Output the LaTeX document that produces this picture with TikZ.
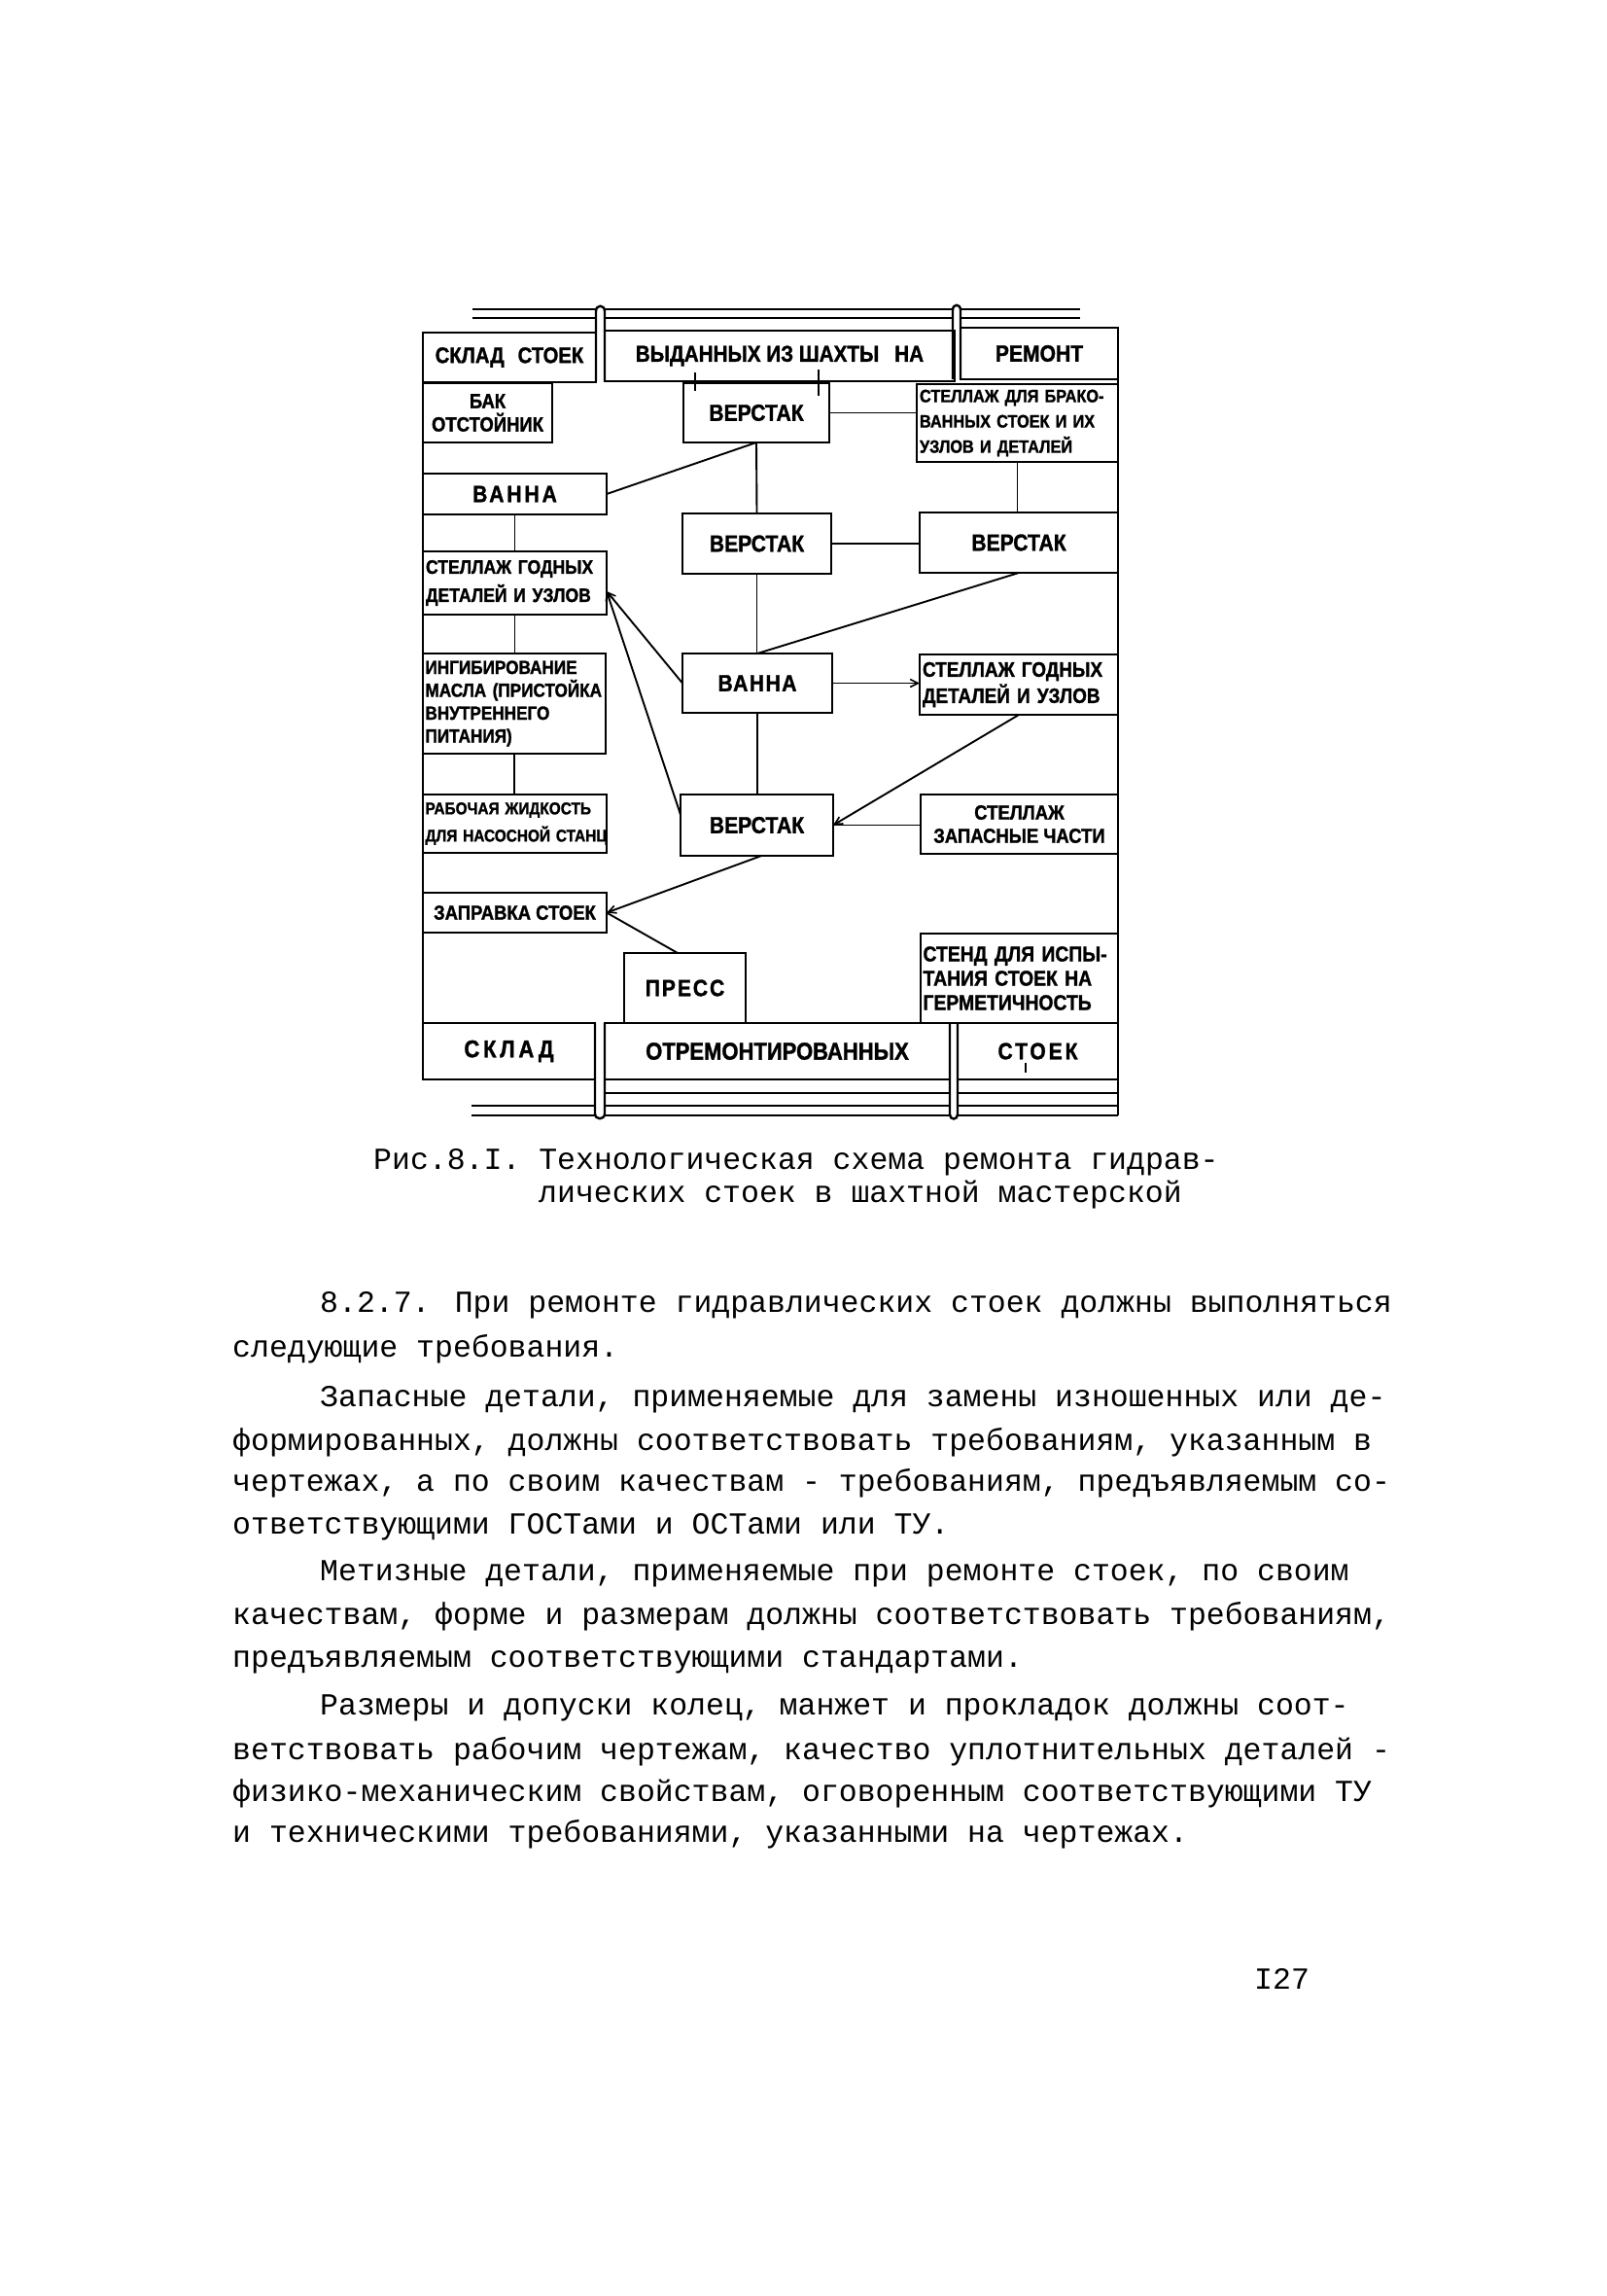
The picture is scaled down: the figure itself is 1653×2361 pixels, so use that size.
\documentclass[tikz,border=0pt]{standalone}
\usepackage{fontspec}
\usetikzlibrary{arrows.meta,calc}
\newfontfamily\dfont[FakeStretch=0.88, BoldFeatures={FakeBold=1.3}]{Liberation Sans}
\newfontfamily\tfont{Liberation Mono}
\begin{document}
\begin{tikzpicture}[x=1pt,y=-1pt,
  bx/.style={draw, line width=2.2pt, inner sep=2pt, outer sep=0pt},
  df/.style 2 args={font=\dfont\bfseries\fontsize{#1}{#2}\selectfont},
  con/.style={line width=1.9pt},
  arr/.style={-{Straight Barb[length=8pt,width=8pt,line width=1.6pt]}},
  wall/.style={line width=2.4pt},
  rail/.style={line width=2.6pt},
  bodyt/.style={anchor=base west, inner sep=0pt, font=\tfont\fontsize{31.5}{36}\selectfont}]
\fill[white] (0,0) rectangle (1653,2361);
\useasboundingbox (0,0) rectangle (1653,2361);

% rails
\draw[rail] (486,318) -- (613,318) (622,318) -- (980,318) (988,318) -- (1111,318);
\draw[rail] (486,327) -- (613,327) (622,327) -- (980,327) (988,327) -- (1111,327);
\draw[rail] (485,1137) -- (612,1137) (622,1137) -- (977,1137) (985,1137) -- (1150,1137);
\draw[rail] (485,1147) -- (612,1147) (622,1147) -- (977,1147) (985,1147) -- (1150,1147);
\draw[wall] (622,1124) -- (977,1124) (985,1124) -- (1150,1124);
% walls
\draw[wall] (435,342) -- (435,1110);
\draw[wall] (1150,337) -- (1150,1147);
% posts
\draw[wall] (613,392) -- (613,320) .. controls (613,313) and (622,313) .. (622,320) -- (622,392);
\draw[wall] (980,390) -- (980,319) .. controls (980,312) and (988,312) .. (988,319) -- (988,390);
\draw[wall] (612,1052) -- (612,1145) .. controls (612,1152) and (622,1152) .. (622,1145) -- (622,1052);
\draw[wall] (977,1052) -- (977,1146) .. controls (977,1152) and (985,1152) .. (985,1146) -- (985,1052);

% boxes
\node[bx, df={23}{25}, minimum width=178, minimum height=51] (skladTop) at (524,367.5) {СКЛАД\hspace{14pt}СТОЕК};
\node[bx, df={23.5}{25}, minimum width=360, minimum height=52] (vydan) at (802,366) {ВЫДАННЫХ ИЗ ШАХТЫ\hspace{16pt}НА};
\node[bx, df={24}{26}, minimum width=162, minimum height=53] (remont) at (1069,363.5) {РЕМОНТ};
\node[bx, df={21}{24}, minimum width=133, minimum height=61, align=center] (bak) at (501.5,424.5) {БАК\\ОТСТОЙНИК};
\node[bx, df={24}{26}, minimum width=150, minimum height=61] (verst1) at (778,424.5) {ВЕРСТАК};
\node[bx, df={18.5}{26}, minimum width=207, minimum height=80, text width=201, align=left] (brak) at (1046.5,435) {\mbox{СТЕЛЛАЖ ДЛЯ БРАКО-}\\\mbox{ВАННЫХ СТОЕК И ИХ}\\\mbox{УЗЛОВ И ДЕТАЛЕЙ}};
\node[bx, df={24}{26}, minimum width=189, minimum height=42] (vanna1) at (529.5,508) {\addfontfeatures{LetterSpace=12}ВАННА};
\node[bx, df={24}{26}, minimum width=153, minimum height=62] (verst2) at (778.5,559) {ВЕРСТАК};
\node[bx, df={24}{26}, minimum width=204, minimum height=62] (verst3) at (1048,558) {ВЕРСТАК};
\node[bx, df={20}{29}, minimum width=189, minimum height=65, text width=183, align=left] (stGodL) at (529.5,599.5) {\mbox{СТЕЛЛАЖ ГОДНЫХ}\\\mbox{ДЕТАЛЕЙ И УЗЛОВ}};
\node[bx, df={19.5}{23.5}, minimum width=188, minimum height=103, text width=183, align=left] (ingib) at (529,723.5) {\mbox{ИНГИБИРОВАНИЕ}\\\mbox{МАСЛА (ПРИСТОЙКА}\\\mbox{ВНУТРЕННЕГО}\\\mbox{ПИТАНИЯ)}};
\node[bx, df={17.5}{28}, minimum width=189, minimum height=60, text width=184, align=left] (rabzh) at (529.5,847) {\mbox{РАБОЧАЯ ЖИДКОСТЬ}\\\mbox{ДЛЯ НАСОСНОЙ СТАНЦ}};
\node[bx, df={24}{26}, minimum width=154, minimum height=61] (vanna2) at (779,702.5) {\addfontfeatures{LetterSpace=6}ВАННА};
\node[bx, df={21.5}{27}, minimum width=204, minimum height=62, text width=198, align=left] (stGodR) at (1048,704) {\mbox{СТЕЛЛАЖ ГОДНЫХ}\\\mbox{ДЕТАЛЕЙ И УЗЛОВ}};
\node[bx, df={24}{26}, minimum width=157, minimum height=63] (verst4) at (778.5,848.5) {ВЕРСТАК};
\node[bx, df={21}{24}, minimum width=203, minimum height=61, align=center] (zapch) at (1048.5,847.5) {СТЕЛЛАЖ\\ЗАПАСНЫЕ ЧАСТИ};
\node[bx, df={21}{24}, minimum width=189, minimum height=41] (zapr) at (529.5,938.5) {ЗАПРАВКА СТОЕК};
\node[bx, df={24}{26}, minimum width=125, minimum height=72] (press) at (704.5,1016) {\addfontfeatures{LetterSpace=8}ПРЕСС};
\node[bx, df={22}{25}, minimum width=203, minimum height=92, text width=198, align=left] (stend) at (1048.5,1006) {\mbox{СТЕНД ДЛЯ ИСПЫ-}\\\mbox{ТАНИЯ СТОЕК НА}\\\mbox{ГЕРМЕТИЧНОСТЬ}};
\node[bx, df={25}{27}, minimum width=177, minimum height=58] (skladB) at (523.5,1081) {\addfontfeatures{LetterSpace=15}СКЛАД};
\node[bx, df={25}{27}, minimum width=355, minimum height=58] (otrem) at (799.5,1081) {ОТРЕМОНТИРОВАННЫХ};
\node[bx, df={24}{26}, minimum width=165, minimum height=58] (stoekB) at (1067.5,1081) {\addfontfeatures{LetterSpace=12}СТОЕК};

% small ticks
\draw[con] (715,383) -- (715,402);
\draw[con] (842,380) -- (842,407);
\draw[con] (1055,1093) -- (1055,1103);

% connectors
\draw[con] (verst1.east) -- (verst1.east -| brak.west);
\draw[con] (vanna1.east) -- (verst1.south);
\draw[con] (verst1.south) -- (verst2.north);
\draw[con] (brak.south) -- (brak.south |- verst3.north);
\draw[con] (verst2.east) -- (verst2.east -| verst3.west);
\draw[con] (vanna1.south) -- (vanna1.south |- stGodL.north);
\draw[con] (stGodL.south) -- (stGodL.south |- ingib.north);
\draw[con] (ingib.south) -- (ingib.south |- rabzh.north);
\draw[con] (verst2.south) -- (verst2.south |- vanna2.north);
\draw[con] (verst3.south) -- (vanna2.north);
\draw[con,arr] (vanna2.west) -- ($(stGodL.north east)!0.63!(stGodL.south east)$);
\draw[con,arr] ($(verst4.north west)!0.33!(verst4.south west)$) -- ($(stGodL.north east)!0.63!(stGodL.south east)$);
\draw[con,arr] (vanna2.east) -- (vanna2.east -| stGodR.west);
\draw[con,arr] (stGodR.south) -- (verst4.east);
\draw[con] (verst4.east) -- (verst4.east -| zapch.west);
\draw[con] (vanna2.south) -- (vanna2.south |- verst4.north);
\draw[con,arr] ($(verst4.south west)!0.53!(verst4.south east)$) -- (zapr.east);
\draw[con] (zapr.east) -- ($(press.north west)!0.44!(press.north east)$);

% caption
\node[bodyt] (cap1) at (384,1202) {Рис.8.I. Технологическая схема ремонта гидрав-};
\node[bodyt] (cap2) at (554,1236) {лических стоек в шахтной мастерской};

% body text
\node[bodyt] (l1) at (329,1349) {8.2.7. При ремонте гидравлических стоек должны выполняться};
\node[bodyt] (l2) at (239,1395) {следующие требования.};
\node[bodyt] (l3) at (329,1446) {Запасные детали, применяемые для замены изношенных или де-};
\node[bodyt] (l4) at (239,1491) {формированных, должны соответствовать требованиям, указанным в};
\node[bodyt] (l5) at (239,1533) {чертежах, а по своим качествам - требованиям, предъявляемым со-};
\node[bodyt] (l6) at (239,1577) {ответствующими ГОСТами и ОСТами или ТУ.};
\node[bodyt] (l7) at (329,1625) {Метизные детали, применяемые при ремонте стоек, по своим};
\node[bodyt] (l8) at (239,1670) {качествам, форме и размерам должны соответствовать требованиям,};
\node[bodyt] (l9) at (239,1714) {предъявляемым соответствующими стандартами.};
\node[bodyt] (l10) at (329,1763) {Размеры и допуски колец, манжет и прокладок должны соот-};
\node[bodyt] (l11) at (239,1809) {ветствовать рабочим чертежам, качество уплотнительных деталей -};
\node[bodyt] (l12) at (239,1852) {физико-механическим свойствам, оговоренным соответствующими ТУ};
\node[bodyt] (l13) at (239,1894) {и техническими требованиями, указанными на чертежах.};

% page number
\node[bodyt] (pg) at (1290,2045) {I27};
\end{tikzpicture}
\end{document}
